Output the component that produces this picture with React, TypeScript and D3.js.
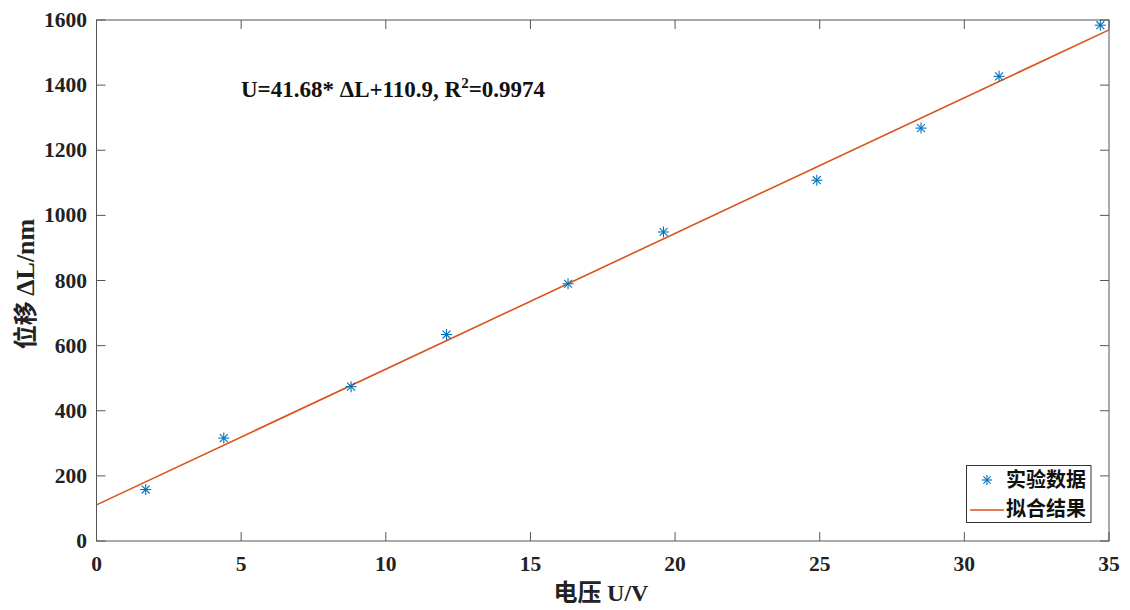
import React from "react";
import * as d3 from "d3";

const voltage = [1.7, 4.4, 8.8, 12.1, 16.3, 19.6, 24.9, 28.5, 31.2, 34.7];
const displacement = [158, 316, 474, 634, 790, 949, 1108, 1268, 1427, 1584];
const fitSlope = 41.68;
const fitIntercept = 110.9;
const xTicks = [0, 5, 10, 15, 20, 25, 30, 35];
const yTicks = [0, 200, 400, 600, 800, 1000, 1200, 1400, 1600];
const legendLabels = ["实验数据", "拟合结果"];

const W = 1130, H = 610;
const L = 96.5, R = 1109, T = 20, B = 541;
const axisColor = "#555";
const blue = "#0072BD";
const orange = "#D95319";
const serif = "'Liberation Serif', 'Times New Roman', serif";
const cjk = "'Noto Sans CJK SC', sans-serif";

function Star({ x, y, s = 5.5 }: { x: number; y: number; s?: number }) {
  const d = s * 0.72;
  return (
    <g stroke={blue} strokeWidth={1.1}>
      <line x1={x - s} y1={y} x2={x + s} y2={y} />
      <line x1={x} y1={y - s} x2={x} y2={y + s} />
      <line x1={x - d} y1={y - d} x2={x + d} y2={y + d} />
      <line x1={x - d} y1={y + d} x2={x + d} y2={y - d} />
    </g>
  );
}

export default function App() {
  const x = d3.scaleLinear().domain([0, 35]).range([L, R]);
  const y = d3.scaleLinear().domain([0, 1600]).range([B, T]);
  const line = d3.line<number>().x((v) => x(v)).y((v) => y(fitSlope * v + fitIntercept));
  const tl = 9;
  return (
    <svg width={W} height={H} style={{ position: "absolute", left: 0, top: 0, background: "#fff" }}>
      <rect x={0} y={0} width={W} height={H} fill="#fff" />
      {xTicks.map((t) => (
        <g key={"x" + t} stroke={axisColor} strokeWidth={1}>
          <line x1={x(t)} x2={x(t)} y1={B} y2={B - tl} />
          <line x1={x(t)} x2={x(t)} y1={T} y2={T + tl} />
        </g>
      ))}
      {yTicks.map((t) => (
        <g key={"y" + t} stroke={axisColor} strokeWidth={1}>
          <line x1={L} x2={L + tl} y1={y(t)} y2={y(t)} />
          <line x1={R} x2={R - tl} y1={y(t)} y2={y(t)} />
        </g>
      ))}
      <path d={line([0, 35]) || ""} fill="none" stroke={orange} strokeWidth={1.6} />
      {voltage.map((v, i) => (
        <Star key={i} x={x(v)} y={y(displacement[i])} />
      ))}
      <rect x={L} y={T} width={R - L} height={B - T} fill="none" stroke={axisColor} strokeWidth={1} />
      {xTicks.map((t) => (
        <text key={"xl" + t} x={x(t)} y={571} textAnchor="middle" fontFamily={serif} fontWeight="bold" fontSize={21.5} fill="#222">
          {t}
        </text>
      ))}
      {yTicks.map((t) => (
        <text key={"yl" + t} x={87} y={y(t) + 7} textAnchor="end" fontFamily={serif} fontWeight="bold" fontSize={21.5} fill="#222">
          {t}
        </text>
      ))}
      <text x={601} y={601} textAnchor="middle" fontWeight="bold" fill="#222">
        <tspan fontFamily={cjk} fontSize={24}>电压 </tspan>
        <tspan fontFamily={serif} fontSize={24}>U/V</tspan>
      </text>
      <text transform={`translate(34, 284) rotate(-90)`} textAnchor="middle" fontWeight="bold" fill="#222">
        <tspan fontFamily={cjk} fontSize={24}>位移 </tspan>
        <tspan fontFamily={serif} fontSize={26}>ΔL/nm</tspan>
      </text>
      <text x={241} y={97} fontFamily={serif} fontWeight="bold" fontSize={23} fill="#111">
        U=41.68* ΔL+110.9, R<tspan dy={-9} fontSize={15}>2</tspan><tspan dy={9}>=0.9974</tspan>
      </text>
      <rect x={966.5} y={465.5} width={124.5} height={57} fill="#fff" stroke="#333" strokeWidth={1} />
      <Star x={987} y={480} s={5} />
      <line x1={970} x2={1004} y1={510} y2={510} stroke={orange} strokeWidth={1.6} />
      {legendLabels.map((lab, i) => (
        <text key={lab} x={1006} y={487 + i * 29} fontFamily={cjk} fontWeight="bold" fontSize={20} fill="#111">
          {lab}
        </text>
      ))}
    </svg>
  );
}
